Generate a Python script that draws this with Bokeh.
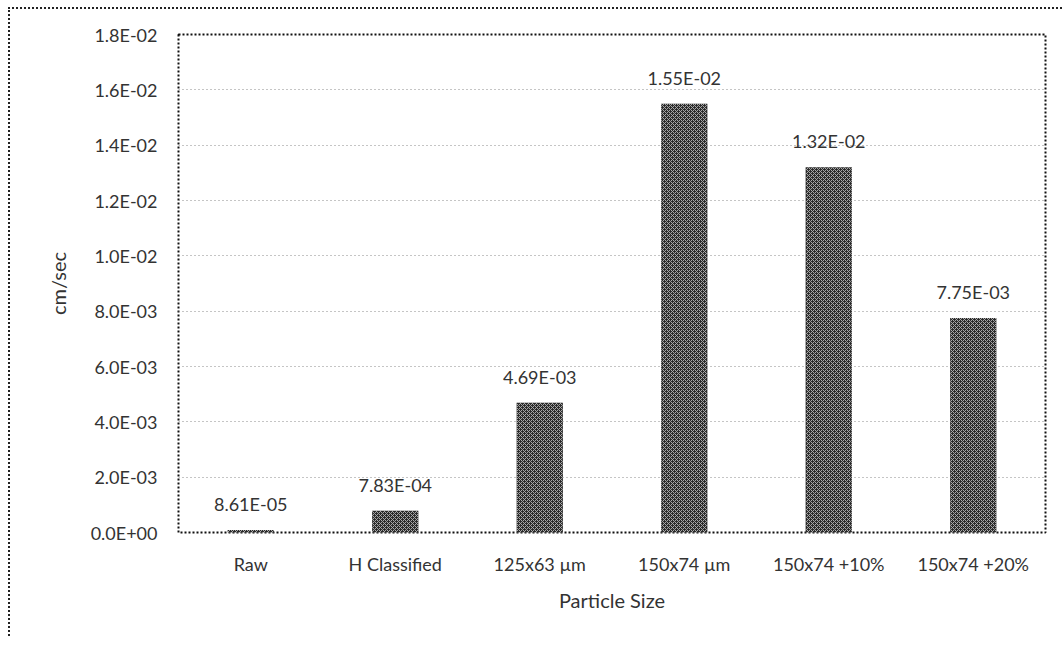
from bokeh.plotting import figure
from bokeh.models import ColumnDataSource, FactorRange, Range1d, CustomJSTickFormatter, LabelSet, FixedTicker
from bokeh.core.properties import value
from bokeh.embed import file_html
from bokeh.resources import INLINE

categories = ["Raw", "H Classified", "125x63 µm", "150x74 µm", "150x74 +10%", "150x74 +20%"]
values = [8.61e-05, 7.83e-04, 4.69e-03, 1.55e-02, 1.32e-02, 7.75e-03]
y_ticks = [0.0, 0.002, 0.004, 0.006, 0.008, 0.010, 0.012, 0.014, 0.016, 0.018]
x_title = "Particle Size"
y_title = "cm/sec"

def fmt(v):
    m, e = f"{v:.2E}".split("E")
    return f"{m}E{e}"

labels = [fmt(v) for v in values]
src = ColumnDataSource(dict(cat=categories, val=values, lab=labels))

FONT = "Lato"
TXT = "#333333"

p = figure(x_range=FactorRange(*categories), y_range=Range1d(0, 0.018),
           frame_width=867, frame_height=498,
           min_border_left=168, min_border_top=25, min_border_right=17, min_border_bottom=104,
           output_backend="svg", toolbar_location=None)
p.styles = {"border-left": "2px dotted #222", "border-top": "2px dotted #222",
            "margin-left": "8px", "margin-top": "7px"}

p.vbar(x="cat", top="val", width=0.32, source=src, fill_color="#2a2a2a", line_color=None,
       hatch_pattern="diagonal_cross", hatch_color="#a8a8a8", hatch_scale=4, hatch_weight=1)

p.add_layout(LabelSet(x="cat", y="val", text="lab", source=src, text_align="center",
                      text_baseline="middle", y_offset=26, text_font=value(FONT),
                      text_font_size="18px", text_color=TXT))

p.outline_line_color="#111"
p.outline_line_dash="2 2"
p.outline_line_width=2

p.xgrid.grid_line_color=None
p.ygrid.grid_line_color="#8a8a8a"
p.ygrid.grid_line_dash="1 3"
p.ygrid.grid_line_width=1

p.yaxis.ticker = FixedTicker(ticks=y_ticks)
p.yaxis.formatter = CustomJSTickFormatter(code="""
var s = tick.toExponential(1); var parts = s.split('e'); var e = parseInt(parts[1]);
var sign = e < 0 ? '-' : '+'; var a = Math.abs(e);
return parts[0] + 'E' + sign + (a < 10 ? '0' : '') + a;
""")

for ax in (p.xaxis, p.yaxis):
    ax.axis_line_color=None
    ax.major_tick_line_color=None
    ax.minor_tick_line_color=None
    ax.major_tick_out=0
    ax.major_tick_in=0
    ax.minor_tick_out=0
    ax.minor_tick_in=0
    ax.major_label_text_font=FONT
    ax.major_label_text_font_size="18px"
    ax.major_label_text_color=TXT
    ax.axis_label_text_font=FONT
    ax.axis_label_text_font_size="20px"
    ax.axis_label_text_font_style="normal"
    ax.axis_label_text_color=TXT

p.yaxis.major_label_standoff=21
p.yaxis.axis_label=y_title
p.yaxis.axis_label_standoff=18
p.xaxis.major_label_standoff=20
p.xaxis.axis_label=x_title
p.xaxis.axis_label_standoff=10

open("out.html","w").write(file_html(p, INLINE))
